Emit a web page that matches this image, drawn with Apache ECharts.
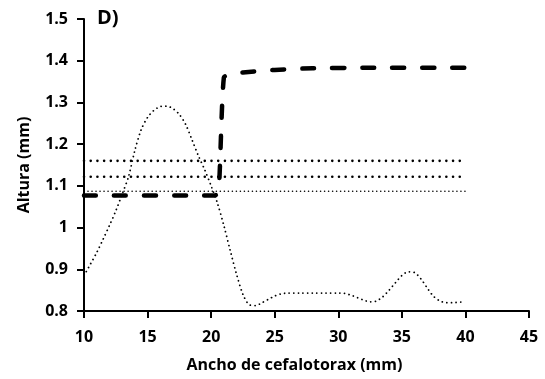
<!DOCTYPE html>
<html lang="es">
<head>
<meta charset="UTF-8">
<title>Altura vs ancho de cefalotorax</title>
<script src="https://cdn.jsdelivr.net/npm/echarts@6/dist/echarts.min.js"></script>
<style>
    html, body { margin: 0; padding: 0; background: #fff; }
    #chart { width: 545px; height: 379px; }
</style>
</head>
<body>
<div id="chart"></div>
<script>
    // curva punteada (densidad), leida cada 0.5 mm
    var curveX = [10, 10.5, 11, 11.5, 12, 12.5, 13, 13.5, 14, 14.5, 15, 15.5, 16, 16.5, 17, 17.5, 18, 18.5, 19, 19.5,
                  20, 20.5, 21, 21.5, 22, 22.5, 23, 23.5, 24, 24.5, 25, 25.5, 26, 27, 28, 29, 30, 30.5, 31, 31.5,
                  32, 32.5, 33, 33.5, 34, 34.5, 35, 35.5, 36, 36.5, 37, 37.5, 38, 38.5, 39, 39.8];
    var curveY = [0.885, 0.912, 0.94, 0.972, 1.005, 1.04, 1.08, 1.122, 1.185, 1.235, 1.264, 1.281, 1.29, 1.291, 1.285, 1.271, 1.247, 1.21, 1.172, 1.138,
                  1.1, 1.058, 1.005, 0.945, 0.888, 0.84, 0.815, 0.813, 0.82, 0.828, 0.836, 0.841, 0.843, 0.843, 0.843, 0.843, 0.843, 0.842, 0.838, 0.832,
                  0.826, 0.822, 0.824, 0.834, 0.85, 0.868, 0.885, 0.894, 0.892, 0.877, 0.855, 0.835, 0.824, 0.82, 0.82, 0.822];

    // linea discontinua (escalon)
    var stepX = [10, 20.3, 20.6, 21.0, 21.6, 22.5, 25, 28, 32, 40];
    var stepY = [1.077, 1.077, 1.09, 1.36, 1.368, 1.372, 1.378, 1.382, 1.383, 1.383];

    // lineas horizontales
    var hLineX = [10, 40];
    var hLineA = 1.16;
    var hLineB = 1.122;
    var hLineC = 1.087;

    function pairs(xs, ys) {
        return xs.map(function (x, i) { return [x, ys[i]]; });
    }

    var font = '"Open Sans", sans-serif';
    var chart = echarts.init(document.getElementById('chart'));

    var option = {
        animation: false,
        grid: { left: 84, right: 16, top: 19, bottom: 68 },
        graphic: [{
            type: 'text',
            left: 97,
            top: 8,
            style: { text: 'D)', font: 'bold 20px ' + font, fill: '#000' }
        }],
        xAxis: {
            type: 'value',
            min: 10,
            max: 45,
            interval: 5,
            name: 'Ancho de cefalotorax (mm)',
            nameLocation: 'middle',
            nameGap: 46,
            nameTextStyle: { fontFamily: font, fontWeight: 'bold', fontSize: 16, color: '#000', padding: [0, 24, 0, 0] },
            axisLine: { onZero: false, lineStyle: { color: '#000', width: 2 } },
            axisTick: { show: true, length: 7, lineStyle: { color: '#000', width: 2 } },
            axisLabel: { margin: 18, fontFamily: font, fontWeight: 'bold', fontSize: 16, color: '#000' },
            splitLine: { show: false }
        },
        yAxis: {
            type: 'value',
            min: 0.8,
            max: 1.5,
            interval: 0.1,
            name: 'Altura (mm)',
            nameLocation: 'middle',
            nameGap: 52,
            nameTextStyle: { fontFamily: font, fontWeight: 'bold', fontSize: 16, color: '#000' },
            axisLine: { show: true, onZero: false, lineStyle: { color: '#000', width: 2 } },
            axisTick: { show: true, length: 7, lineStyle: { color: '#000', width: 2 } },
            axisLabel: {
                margin: 16, fontFamily: font, fontWeight: 'bold', fontSize: 16, color: '#000',
                formatter: function (v) { return String(Math.round(v * 10) / 10); }
            },
            splitLine: { show: false }
        },
        series: [
            {
                type: 'line',
                data: pairs(curveX, curveY),
                smooth: 0.3,
                showSymbol: false,
                lineStyle: { color: '#000', width: 1.8, type: [0.01, 4.6], cap: 'round' }
            },
            {
                type: 'line',
                data: pairs(hLineX, [hLineA, hLineA]),
                showSymbol: false,
                lineStyle: { color: '#000', width: 2.6, type: [0.01, 6.7], cap: 'round' }
            },
            {
                type: 'line',
                data: pairs(hLineX, [hLineB, hLineB]),
                showSymbol: false,
                lineStyle: { color: '#000', width: 2.6, type: [0.01, 6.7], cap: 'round' }
            },
            {
                type: 'line',
                data: pairs(hLineX, [hLineC, hLineC]),
                showSymbol: false,
                lineStyle: { color: '#000', width: 1.6, type: [0.01, 4], cap: 'round' }
            },
            {
                type: 'line',
                data: pairs(stepX, stepY),
                smooth: 0.2,
                showSymbol: false,
                lineStyle: { color: '#000', width: 4.5, type: [12, 18], cap: 'round' }
            }
        ]
    };

    chart.setOption(option);
</script>
</body>
</html>
